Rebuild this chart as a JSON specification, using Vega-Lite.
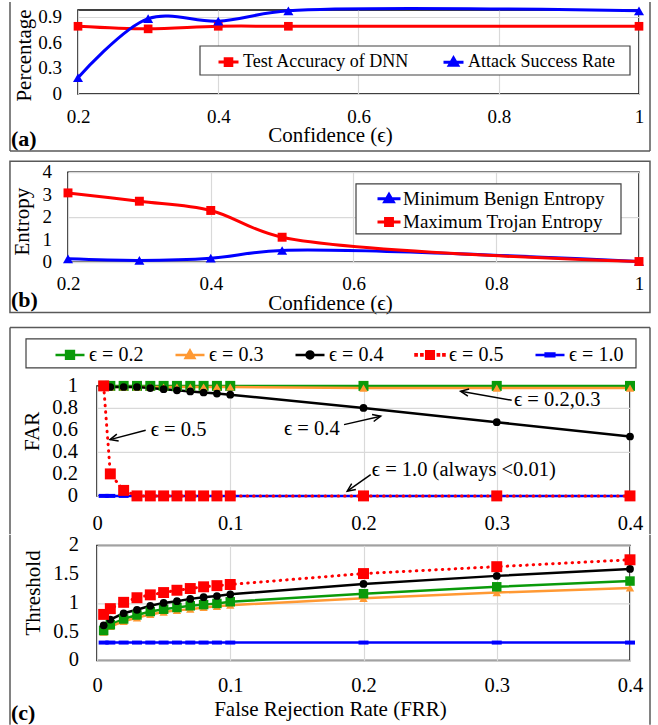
{
  "$schema": "https://vega.github.io/schema/vega-lite/v6.json",
  "padding": {"left": 7, "top": 0, "right": 5, "bottom": 0},
  "columns": 1,
  "spacing": 10.9,
  "align": "none",
  "resolve": {"scale": {"x": "independent", "y": "independent", "color": "independent", "fill": "independent", "stroke": "independent", "shape": "independent"}},
  "datasets": {
    "a": [
      {"conf": 0.2, "series": "Test Accuracy of DNN", "v": 0.79},
      {"conf": 0.3, "series": "Test Accuracy of DNN", "v": 0.76},
      {"conf": 0.4, "series": "Test Accuracy of DNN", "v": 0.79},
      {"conf": 0.5, "series": "Test Accuracy of DNN", "v": 0.79},
      {"conf": 1, "series": "Test Accuracy of DNN", "v": 0.79},
      {"conf": 0.2, "series": "Attack Success Rate", "v": 0.19},
      {"conf": 0.3, "series": "Attack Success Rate", "v": 0.88},
      {"conf": 0.4, "series": "Attack Success Rate", "v": 0.85},
      {"conf": 0.5, "series": "Attack Success Rate", "v": 0.97},
      {"conf": 1, "series": "Attack Success Rate", "v": 0.97}
    ],
    "b": [
      {"conf": 0.2, "series": "Minimum Benign Entropy", "v": 0.15},
      {"conf": 0.3, "series": "Minimum Benign Entropy", "v": 0.08},
      {"conf": 0.4, "series": "Minimum Benign Entropy", "v": 0.18},
      {"conf": 0.5, "series": "Minimum Benign Entropy", "v": 0.52},
      {"conf": 1, "series": "Minimum Benign Entropy", "v": 0.03},
      {"conf": 0.2, "series": "Maximum Trojan Entropy", "v": 3.08},
      {"conf": 0.3, "series": "Maximum Trojan Entropy", "v": 2.71},
      {"conf": 0.4, "series": "Maximum Trojan Entropy", "v": 2.3},
      {"conf": 0.5, "series": "Maximum Trojan Entropy", "v": 1.11},
      {"conf": 1, "series": "Maximum Trojan Entropy", "v": 0.03}
    ],
    "ta": [{"v": 0}, {"v": 0.3}, {"v": 0.6}, {"v": 0.9}],
    "tb": [{"v": 0}, {"v": 1}, {"v": 2}, {"v": 3}, {"v": 4}],
    "tf": [{"far": 0}, {"far": 0.2}, {"far": 0.4}, {"far": 0.6}, {"far": 0.8}, {"far": 1}],
    "tt": [{"thr": 0}, {"thr": 0.5}, {"thr": 1}, {"thr": 1.5}, {"thr": 2}],
    "c": [
      {"frr": 0.005, "eps": "ϵ = 0.2", "far": 1, "thr": 0.52},
      {"frr": 0.01, "eps": "ϵ = 0.2", "far": 1, "thr": 0.62},
      {"frr": 0.02, "eps": "ϵ = 0.2", "far": 1, "thr": 0.72},
      {"frr": 0.03, "eps": "ϵ = 0.2", "far": 1, "thr": 0.79},
      {"frr": 0.04, "eps": "ϵ = 0.2", "far": 1, "thr": 0.85},
      {"frr": 0.05, "eps": "ϵ = 0.2", "far": 1, "thr": 0.89},
      {"frr": 0.06, "eps": "ϵ = 0.2", "far": 1, "thr": 0.92},
      {"frr": 0.07, "eps": "ϵ = 0.2", "far": 1, "thr": 0.95},
      {"frr": 0.08, "eps": "ϵ = 0.2", "far": 1, "thr": 0.97},
      {"frr": 0.09, "eps": "ϵ = 0.2", "far": 1, "thr": 0.99},
      {"frr": 0.1, "eps": "ϵ = 0.2", "far": 1, "thr": 1.02},
      {"frr": 0.2, "eps": "ϵ = 0.2", "far": 1, "thr": 1.16},
      {"frr": 0.3, "eps": "ϵ = 0.2", "far": 1, "thr": 1.28},
      {"frr": 0.4, "eps": "ϵ = 0.2", "far": 1, "thr": 1.38},
      {"frr": 0.005, "eps": "ϵ = 0.3", "far": 0.99, "thr": 0.49},
      {"frr": 0.01, "eps": "ϵ = 0.3", "far": 0.99, "thr": 0.59},
      {"frr": 0.02, "eps": "ϵ = 0.3", "far": 0.99, "thr": 0.68},
      {"frr": 0.03, "eps": "ϵ = 0.3", "far": 0.99, "thr": 0.74},
      {"frr": 0.04, "eps": "ϵ = 0.3", "far": 0.99, "thr": 0.8},
      {"frr": 0.05, "eps": "ϵ = 0.3", "far": 0.99, "thr": 0.84},
      {"frr": 0.06, "eps": "ϵ = 0.3", "far": 0.99, "thr": 0.87},
      {"frr": 0.07, "eps": "ϵ = 0.3", "far": 0.99, "thr": 0.89},
      {"frr": 0.08, "eps": "ϵ = 0.3", "far": 0.99, "thr": 0.92},
      {"frr": 0.09, "eps": "ϵ = 0.3", "far": 0.99, "thr": 0.94},
      {"frr": 0.1, "eps": "ϵ = 0.3", "far": 0.99, "thr": 0.96},
      {"frr": 0.2, "eps": "ϵ = 0.3", "far": 0.98, "thr": 1.08},
      {"frr": 0.3, "eps": "ϵ = 0.3", "far": 0.98, "thr": 1.18},
      {"frr": 0.4, "eps": "ϵ = 0.3", "far": 0.98, "thr": 1.26},
      {"frr": 0.005, "eps": "ϵ = 0.4", "far": 1, "thr": 0.61},
      {"frr": 0.01, "eps": "ϵ = 0.4", "far": 0.99, "thr": 0.71},
      {"frr": 0.02, "eps": "ϵ = 0.4", "far": 0.99, "thr": 0.82},
      {"frr": 0.03, "eps": "ϵ = 0.4", "far": 0.99, "thr": 0.88},
      {"frr": 0.04, "eps": "ϵ = 0.4", "far": 0.98, "thr": 0.95},
      {"frr": 0.05, "eps": "ϵ = 0.4", "far": 0.97, "thr": 1.0},
      {"frr": 0.06, "eps": "ϵ = 0.4", "far": 0.96, "thr": 1.03},
      {"frr": 0.07, "eps": "ϵ = 0.4", "far": 0.95, "thr": 1.07},
      {"frr": 0.08, "eps": "ϵ = 0.4", "far": 0.94, "thr": 1.1},
      {"frr": 0.09, "eps": "ϵ = 0.4", "far": 0.93, "thr": 1.12},
      {"frr": 0.1, "eps": "ϵ = 0.4", "far": 0.92, "thr": 1.15},
      {"frr": 0.2, "eps": "ϵ = 0.4", "far": 0.8, "thr": 1.33},
      {"frr": 0.3, "eps": "ϵ = 0.4", "far": 0.67, "thr": 1.47},
      {"frr": 0.4, "eps": "ϵ = 0.4", "far": 0.54, "thr": 1.59},
      {"frr": 0.005, "eps": "ϵ = 1.0", "far": 0, "thr": 0.31},
      {"frr": 0.01, "eps": "ϵ = 1.0", "far": 0, "thr": 0.31},
      {"frr": 0.02, "eps": "ϵ = 1.0", "far": 0, "thr": 0.31},
      {"frr": 0.03, "eps": "ϵ = 1.0", "far": 0, "thr": 0.31},
      {"frr": 0.04, "eps": "ϵ = 1.0", "far": 0, "thr": 0.31},
      {"frr": 0.05, "eps": "ϵ = 1.0", "far": 0, "thr": 0.31},
      {"frr": 0.06, "eps": "ϵ = 1.0", "far": 0, "thr": 0.31},
      {"frr": 0.07, "eps": "ϵ = 1.0", "far": 0, "thr": 0.31},
      {"frr": 0.08, "eps": "ϵ = 1.0", "far": 0, "thr": 0.31},
      {"frr": 0.09, "eps": "ϵ = 1.0", "far": 0, "thr": 0.31},
      {"frr": 0.1, "eps": "ϵ = 1.0", "far": 0, "thr": 0.31},
      {"frr": 0.2, "eps": "ϵ = 1.0", "far": 0, "thr": 0.31},
      {"frr": 0.3, "eps": "ϵ = 1.0", "far": 0, "thr": 0.31},
      {"frr": 0.4, "eps": "ϵ = 1.0", "far": 0, "thr": 0.31},
      {"frr": 0.005, "eps": "ϵ = 0.5", "far": 1, "thr": 0.8},
      {"frr": 0.01, "eps": "ϵ = 0.5", "far": 0.2, "thr": 0.9},
      {"frr": 0.02, "eps": "ϵ = 0.5", "far": 0.05, "thr": 1.01},
      {"frr": 0.03, "eps": "ϵ = 0.5", "far": 0, "thr": 1.09},
      {"frr": 0.04, "eps": "ϵ = 0.5", "far": 0, "thr": 1.14},
      {"frr": 0.05, "eps": "ϵ = 0.5", "far": 0, "thr": 1.18},
      {"frr": 0.06, "eps": "ϵ = 0.5", "far": 0, "thr": 1.22},
      {"frr": 0.07, "eps": "ϵ = 0.5", "far": 0, "thr": 1.25},
      {"frr": 0.08, "eps": "ϵ = 0.5", "far": 0, "thr": 1.28},
      {"frr": 0.09, "eps": "ϵ = 0.5", "far": 0, "thr": 1.3},
      {"frr": 0.1, "eps": "ϵ = 0.5", "far": 0, "thr": 1.32},
      {"frr": 0.2, "eps": "ϵ = 0.5", "far": 0, "thr": 1.51},
      {"frr": 0.3, "eps": "ϵ = 0.5", "far": 0, "thr": 1.63},
      {"frr": 0.4, "eps": "ϵ = 0.5", "far": 0, "thr": 1.75}
    ]
  },
  "concat": [
    {
      "columns": 1,
      "spacing": 6.2,
      "align": "none",
      "resolve": {"scale": {"x": "independent", "y": "independent", "color": "independent", "fill": "independent", "stroke": "independent", "shape": "independent"}},
      "concat": [
        {"spacing": 0,
         "resolve": {"scale": {"x": "independent", "y": "independent", "color": "independent", "fill": "independent", "stroke": "independent", "shape": "independent"}},
         "hconcat": [
          {"width": 1, "height": 1, "data": {"values": [{}]}, "mark": {"type": "point", "opacity": 0, "size": 0}, "view": {"stroke": null}},
          {
            "width": 561,
            "height": 84,
            "layer": [
              {
                "data": {"name": "a"},
                "mark": {"type": "line", "interpolate": "catmull-rom", "strokeWidth": 3},
                "encoding": {
                  "x": {"field": "conf", "type": "quantitative", "scale": {"domain": [0.2, 1], "nice": false, "zero": false},
                        "axis": {"values": [0.2, 0.4, 0.6, 0.8, 1], "format": "~g", "title": "Confidence (ϵ)", "labelPadding": 13, "titlePadding": -2, "titleX": 252, "labelOverlap": false}},
                  "y": {"field": "v", "type": "quantitative", "scale": {"domain": [0, 0.98], "nice": false},
                        "axis": {"values": [0, 0.3, 0.6, 0.9], "labels": false, "title": "Percentage", "titlePadding": 44, "titleY": 45}},
                  "color": {"field": "series", "type": "nominal", "scale": {"domain": ["Attack Success Rate", "Test Accuracy of DNN"], "range": ["#0000ff", "#ff0000"]}, "legend": null}
                }
              },
              {
                "data": {"name": "ta"},
                "mark": {"type": "text", "align": "right", "baseline": "middle", "fontSize": 19, "font": "Liberation Serif", "color": "black"},
                "encoding": {"x": {"datum": 0.17718}, "y": {"field": "v", "type": "quantitative"}, "text": {"field": "v", "type": "quantitative", "format": "~g"}}
              },
              {
                "data": {"name": "a"},
                "transform": [{"filter": "datum.series == 'Test Accuracy of DNN'"}],
                "mark": {"type": "point", "shape": "square", "filled": true, "opacity": 1, "color": "#ff0000", "size": 75},
                "encoding": {"x": {"field": "conf", "type": "quantitative"}, "y": {"field": "v", "type": "quantitative"}}
              },
              {
                "data": {"name": "a"},
                "transform": [{"filter": "datum.series == 'Attack Success Rate'"}],
                "mark": {"type": "point", "shape": "triangle-up", "filled": true, "opacity": 1, "color": "#0000ff", "size": 100},
                "encoding": {"x": {"field": "conf", "type": "quantitative"}, "y": {"field": "v", "type": "quantitative"}}
              },
              {"data": {"values": [{}]}, "mark": {"type": "rect", "fill": "white", "stroke": "#404040", "strokeWidth": 1.2},
               "encoding": {"x": {"datum": 0.37397}, "x2": {"datum": 0.98717}, "y": {"datum": 0.56}, "y2": {"datum": 0.22167}}},
              {
                "data": {"name": "a"},
                "mark": {"type": "point", "filled": true, "opacity": 0},
                "encoding": {
                  "x": {"field": "conf", "type": "quantitative"}, "y": {"field": "v", "type": "quantitative"},
                  "fill": {"field": "series", "type": "nominal", "scale": {"domain": ["Test Accuracy of DNN", "Attack Success Rate"], "range": ["#ff0000", "#0000ff"]},
                           "legend": {"title": null, "orient": "none", "legendX": 139, "legendY": 40.5, "direction": "horizontal", "symbolSize": 400, "symbolStrokeWidth": 3, "symbolOpacity": 1, "labelFontSize": 18, "labelOffset": 3, "columnPadding": 27, "padding": 0, "labelLimit": 500}},
                  "stroke": {"field": "series", "type": "nominal", "scale": {"domain": ["Test Accuracy of DNN", "Attack Success Rate"], "range": ["#ff0000", "#0000ff"]},
                           "legend": {"title": null, "orient": "none", "legendX": 139, "legendY": 40.5, "direction": "horizontal", "symbolSize": 400, "symbolStrokeWidth": 3, "symbolOpacity": 1, "labelFontSize": 18, "labelOffset": 3, "columnPadding": 27, "padding": 0, "labelLimit": 500}},
                  "shape": {"field": "series", "type": "nominal", "scale": {"domain": ["Test Accuracy of DNN", "Attack Success Rate"], "range": ["M-1,0H1M-0.33,-0.33H0.33V0.33H-0.33Z", "M-1,0H1M0,-0.42L0.42,0.3H-0.42Z"]},
                           "legend": {"title": null, "orient": "none", "legendX": 139, "legendY": 40.5, "direction": "horizontal", "symbolSize": 400, "symbolStrokeWidth": 3, "symbolOpacity": 1, "labelFontSize": 18, "labelOffset": 3, "columnPadding": 27, "padding": 0, "labelLimit": 500}}
                }
              },
              {"data": {"values": [{}]}, "mark": {"type": "rule", "color": "#595959", "strokeWidth": 1.5},
               "encoding": {"x": {"datum": 0.10303}, "y": {"datum": 1.0733}, "y2": {"datum": -0.665}}},
              {"data": {"values": [{}]}, "mark": {"type": "rule", "color": "#595959", "strokeWidth": 1.5},
               "encoding": {"x": {"datum": 1.01569}, "y": {"datum": 1.0733}, "y2": {"datum": -0.665}}},
              {"data": {"values": [{}]}, "mark": {"type": "rule", "color": "#595959", "strokeWidth": 1.5},
               "encoding": {"x": {"datum": 0.10303}, "x2": {"datum": 1.01569}, "y": {"datum": -0.665}}},
              {"data": {"values": [{}]}, "mark": {"type": "text", "text": "(a)", "align": "left", "baseline": "middle", "fontSize": 22, "fontWeight": "bold", "font": "Liberation Serif", "color": "black"},
               "encoding": {"x": {"datum": 0.10446}, "y": {"datum": -0.5215}}}
            ]
          }
        ]},
        {"spacing": 0,
         "resolve": {"scale": {"x": "independent", "y": "independent", "color": "independent", "fill": "independent", "stroke": "independent", "shape": "independent"}},
         "hconcat": [
          {"width": 1, "height": 1, "data": {"values": [{}]}, "mark": {"type": "point", "opacity": 0, "size": 0}, "view": {"stroke": null}},
          {
            "width": 571,
            "height": 90,
            "layer": [
              {
                "data": {"name": "b"},
                "mark": {"type": "line", "interpolate": "catmull-rom", "strokeWidth": 3},
                "encoding": {
                  "x": {"field": "conf", "type": "quantitative", "scale": {"domain": [0.2, 1], "nice": false, "zero": false},
                        "axis": {"values": [0.2, 0.4, 0.6, 0.8, 1], "format": "~g", "title": "Confidence (ϵ)", "labelPadding": 12.3, "titlePadding": -1.5, "titleX": 262, "labelOverlap": false}},
                  "y": {"field": "v", "type": "quantitative", "scale": {"domain": [0, 4], "nice": false},
                        "axis": {"values": [0, 1, 2, 3, 4], "labels": false, "title": "Entropy", "titlePadding": 36, "titleY": 49}},
                  "color": {"field": "series", "type": "nominal", "scale": {"domain": ["Maximum Trojan Entropy", "Minimum Benign Entropy"], "range": ["#ff0000", "#0000ff"]}, "legend": null}
                }
              },
              {
                "data": {"name": "tb"},
                "mark": {"type": "text", "align": "right", "baseline": "middle", "fontSize": 19, "font": "Liberation Serif", "color": "black"},
                "encoding": {"x": {"datum": 0.17758}, "y": {"field": "v", "type": "quantitative"}, "text": {"field": "v", "type": "quantitative", "format": "~g"}}
              },
              {
                "data": {"name": "b"},
                "transform": [{"filter": "datum.series == 'Minimum Benign Entropy'"}],
                "mark": {"type": "point", "shape": "triangle-up", "filled": true, "opacity": 1, "color": "#0000ff", "size": 100},
                "encoding": {"x": {"field": "conf", "type": "quantitative"}, "y": {"field": "v", "type": "quantitative"}}
              },
              {
                "data": {"name": "b"},
                "transform": [{"filter": "datum.series == 'Maximum Trojan Entropy'"}],
                "mark": {"type": "point", "shape": "square", "filled": true, "opacity": 1, "color": "#ff0000", "size": 80},
                "encoding": {"x": {"field": "conf", "type": "quantitative"}, "y": {"field": "v", "type": "quantitative"}}
              },
              {"data": {"values": [{}]}, "mark": {"type": "rect", "fill": "white", "stroke": "#404040", "strokeWidth": 1.2},
               "encoding": {"x": {"datum": 0.6035}, "x2": {"datum": 0.97478}, "y": {"datum": 3.4844}, "y2": {"datum": 1.2622}}},
              {
                "data": {"name": "b"},
                "mark": {"type": "point", "filled": true, "opacity": 0},
                "encoding": {
                  "x": {"field": "conf", "type": "quantitative"}, "y": {"field": "v", "type": "quantitative"},
                  "fill": {"field": "series", "type": "nominal", "scale": {"domain": ["Minimum Benign Entropy", "Maximum Trojan Entropy"], "range": ["#0000ff", "#ff0000"]},
                           "legend": {"title": null, "orient": "none", "legendX": 308, "legendY": 13.5, "direction": "vertical", "symbolSize": 529, "symbolStrokeWidth": 3, "symbolOpacity": 1, "labelFontSize": 19, "labelOffset": 1, "rowPadding": 0.3, "padding": 0, "labelLimit": 500}},
                  "stroke": {"field": "series", "type": "nominal", "scale": {"domain": ["Minimum Benign Entropy", "Maximum Trojan Entropy"], "range": ["#0000ff", "#ff0000"]},
                           "legend": {"title": null, "orient": "none", "legendX": 308, "legendY": 13.5, "direction": "vertical", "symbolSize": 529, "symbolStrokeWidth": 3, "symbolOpacity": 1, "labelFontSize": 19, "labelOffset": 1, "rowPadding": 0.3, "padding": 0, "labelLimit": 500}},
                  "shape": {"field": "series", "type": "nominal", "scale": {"domain": ["Minimum Benign Entropy", "Maximum Trojan Entropy"], "range": ["M-1,0H1M0,-0.37L0.37,0.27H-0.37Z", "M-1,0H1M-0.3,-0.3H0.3V0.3H-0.3Z"]},
                           "legend": {"title": null, "orient": "none", "legendX": 308, "legendY": 13.5, "direction": "vertical", "symbolSize": 529, "symbolStrokeWidth": 3, "symbolOpacity": 1, "labelFontSize": 19, "labelOffset": 1, "rowPadding": 0.3, "padding": 0, "labelLimit": 500}}
                }
              },
              {"data": {"values": [{}]}, "mark": {"type": "rect", "filled": false, "stroke": "#595959", "strokeWidth": 1.5},
               "encoding": {"x": {"datum": 0.1187}, "x2": {"datum": 1.0154}, "y": {"datum": 4.489}, "y2": {"datum": -2.236}}},
              {"data": {"values": [{}]}, "mark": {"type": "text", "text": "(b)", "align": "left", "baseline": "middle", "fontSize": 22, "fontWeight": "bold", "font": "Liberation Serif", "color": "black"},
               "encoding": {"x": {"datum": 0.1201}, "y": {"datum": -1.702}}}
            ]
          }
        ]}
      ]
    },
    {"spacing": 0,
     "resolve": {"scale": {"x": "independent", "y": "independent", "color": "independent", "fill": "independent", "stroke": "independent", "shape": "independent"}},
     "hconcat": [
      {"width": 1, "height": 1, "data": {"values": [{}]}, "mark": {"type": "point", "opacity": 0, "size": 0}, "view": {"stroke": null}},
      {
        "columns": 1,
        "spacing": -2.5,
        "align": "none",
        "resolve": {"scale": {"x": "independent", "y": "independent", "color": "independent", "fill": "independent", "stroke": "independent", "shape": "independent"}},
        "concat": [
          {
            "width": 533,
            "height": 110,
            "layer": [
              {
                "data": {"name": "c"},
                "transform": [{"filter": "datum.eps != 'ϵ = 0.5'"}],
                "mark": {"type": "line", "strokeWidth": 2.5},
                "encoding": {
                  "x": {"field": "frr", "type": "quantitative", "scale": {"domain": [0, 0.4], "nice": false},
                        "axis": {"values": [0, 0.1, 0.2, 0.3, 0.4], "format": "~g", "title": null, "labelFontSize": 20.5, "labelPadding": 17.8, "labelOverlap": false}},
                  "y": {"field": "far", "type": "quantitative", "scale": {"domain": [0, 1], "nice": false},
                        "axis": {"values": [0, 0.2, 0.4, 0.6, 0.8, 1], "labels": false, "title": "FAR", "titlePadding": 54.3, "titleY": 45}},
                  "color": {"field": "eps", "type": "nominal", "scale": {"domain": ["ϵ = 1.0", "ϵ = 0.2", "ϵ = 0.3", "ϵ = 0.4", "ϵ = 0.5"], "range": ["#0000ff", "#0a9a0a", "#ff9933", "#000000", "#ff0000"]}, "legend": null}
                }
              },
              {
                "data": {"name": "tf"},
                "mark": {"type": "text", "align": "right", "baseline": "middle", "fontSize": 20.5, "font": "Liberation Serif", "color": "black"},
                "encoding": {"x": {"datum": -0.01426}, "y": {"field": "far", "type": "quantitative"}, "text": {"field": "far", "type": "quantitative", "format": "~g"}}
              },
              {
                "data": {"name": "c"},
                "transform": [{"filter": "datum.eps == 'ϵ = 0.5'"}],
                "mark": {"type": "line", "color": "#ff0000", "strokeWidth": 3, "strokeDash": [0.5, 6], "strokeCap": "round"},
                "encoding": {"x": {"field": "frr", "type": "quantitative"}, "y": {"field": "far", "type": "quantitative"}}
              },
              {"data": {"name": "c"}, "transform": [{"filter": "datum.eps == 'ϵ = 0.2'"}],
               "mark": {"type": "point", "shape": "square", "filled": true, "opacity": 1, "color": "#0a9a0a", "size": 100},
               "encoding": {"x": {"field": "frr", "type": "quantitative"}, "y": {"field": "far", "type": "quantitative"}}},
              {"data": {"name": "c"}, "transform": [{"filter": "datum.eps == 'ϵ = 0.3'"}],
               "mark": {"type": "point", "shape": "triangle-up", "filled": true, "opacity": 1, "color": "#ff9933", "size": 70},
               "encoding": {"x": {"field": "frr", "type": "quantitative"}, "y": {"field": "far", "type": "quantitative"}}},
              {"data": {"name": "c"}, "transform": [{"filter": "datum.eps == 'ϵ = 0.4'"}],
               "mark": {"type": "point", "shape": "circle", "filled": true, "opacity": 1, "color": "#000000", "size": 60},
               "encoding": {"x": {"field": "frr", "type": "quantitative"}, "y": {"field": "far", "type": "quantitative"}}},
              {"data": {"name": "c"}, "transform": [{"filter": "datum.eps == 'ϵ = 1.0'"}],
               "mark": {"type": "point", "shape": "M-1,-0.4H1V0.4H-1Z", "filled": true, "opacity": 1, "color": "#0000ff", "size": 100},
               "encoding": {"x": {"field": "frr", "type": "quantitative"}, "y": {"field": "far", "type": "quantitative"}}},
              {"data": {"name": "c"}, "transform": [{"filter": "datum.eps == 'ϵ = 0.5'"}],
               "mark": {"type": "point", "shape": "square", "filled": true, "opacity": 1, "color": "#ff0000", "size": 120},
               "encoding": {"x": {"field": "frr", "type": "quantitative"}, "y": {"field": "far", "type": "quantitative"}}},
              {"data": {"values": [{}]}, "mark": {"type": "rect", "fill": "white", "stroke": "#404040", "strokeWidth": 1.2},
               "encoding": {"x": {"datum": -0.05328}, "x2": {"datum": 0.4045}, "y": {"datum": 1.42727}, "y2": {"datum": 1.16364}}},
              {
                "data": {"name": "c"},
                "mark": {"type": "point", "filled": true, "opacity": 0},
                "encoding": {
                  "x": {"field": "frr", "type": "quantitative"}, "y": {"field": "far", "type": "quantitative"},
                  "fill": {"field": "eps", "type": "nominal", "scale": {"domain": ["ϵ = 0.2", "ϵ = 0.3", "ϵ = 0.4", "ϵ = 0.5", "ϵ = 1.0"], "range": ["#0a9a0a", "#ff9933", "#000000", "#ff0000", "#0000ff"]},
                           "legend": {"title": null, "orient": "none", "legendX": -43, "legendY": -47, "direction": "horizontal", "symbolSize": 841, "symbolStrokeWidth": 2.5, "symbolOpacity": 1, "labelFontSize": 20, "labelOffset": 3, "columnPadding": 26, "padding": 0, "labelLimit": 500}},
                  "stroke": {"field": "eps", "type": "nominal", "scale": {"domain": ["ϵ = 0.2", "ϵ = 0.3", "ϵ = 0.4", "ϵ = 0.5", "ϵ = 1.0"], "range": ["#0a9a0a", "#ff9933", "#000000", "#ff0000", "#0000ff"]},
                           "legend": {"title": null, "orient": "none", "legendX": -43, "legendY": -47, "direction": "horizontal", "symbolSize": 841, "symbolStrokeWidth": 2.5, "symbolOpacity": 1, "labelFontSize": 20, "labelOffset": 3, "columnPadding": 26, "padding": 0, "labelLimit": 500}},
                  "shape": {"field": "eps", "type": "nominal", "scale": {"domain": ["ϵ = 0.2", "ϵ = 0.3", "ϵ = 0.4", "ϵ = 0.5", "ϵ = 1.0"],
                            "range": ["M-1,0H1M-0.27,-0.27H0.27V0.27H-0.27Z", "M-1,0H1M0,-0.3L0.3,0.22H-0.3Z", "M-1,0H1M0.24,0A0.24,0.24 0 1 1 -0.24,0A0.24,0.24 0 1 1 0.24,0Z", "M-1,-0.04H-0.92V0.04H-1ZM-0.6,-0.04H-0.52V0.04H-0.6ZM-0.26,-0.26H0.26V0.26H-0.26ZM0.54,-0.04H0.62V0.04H0.54ZM0.92,-0.04H1V0.04H0.92Z", "M-1,0H1M-0.3,-0.1H0.3V0.1H-0.3Z"]},
                           "legend": {"title": null, "orient": "none", "legendX": -43, "legendY": -47, "direction": "horizontal", "symbolSize": 841, "symbolStrokeWidth": 2.5, "symbolOpacity": 1, "labelFontSize": 20, "labelOffset": 3, "columnPadding": 26, "padding": 0, "labelLimit": 500}}
                }
              },
              {"data": {"values": [{}]}, "mark": {"type": "rule", "color": "#595959", "strokeWidth": 1.5},
               "encoding": {"x": {"datum": -0.06529}, "x2": {"datum": 0.41501}, "y": {"datum": 1.53}}},
              {"data": {"values": [{}]}, "mark": {"type": "rule", "color": "#595959", "strokeWidth": 1.5},
               "encoding": {"x": {"datum": -0.06529}, "y": {"datum": 1.53}, "y2": {"datum": -0.349}}},
              {"data": {"values": [{}]}, "mark": {"type": "rule", "color": "#595959", "strokeWidth": 1.5},
               "encoding": {"x": {"datum": 0.41501}, "y": {"datum": 1.53}, "y2": {"datum": -0.349}}},
              {"data": {"values": [{}]}, "mark": {"type": "rule", "color": "black", "strokeWidth": 1.5},
               "encoding": {"x": {"datum": 0.03655}, "y": {"datum": 0.5973}, "x2": {"datum": 0.00976}, "y2": {"datum": 0.5118}}},
              {"data": {"values": [{}]}, "mark": {"type": "point", "shape": "M-0.45,1L0,0L0.45,1", "angle": 255.25, "size": 256, "filled": false, "stroke": "black", "strokeWidth": 1.5, "opacity": 1},
               "encoding": {"x": {"datum": 0.00976}, "y": {"datum": 0.5118}}},
              {"data": {"values": [{}]}, "mark": {"type": "text", "text": "ϵ = 0.5", "align": "left", "baseline": "middle", "fontSize": 20.5, "font": "Liberation Serif", "color": "black"},
               "encoding": {"x": {"datum": 0.0403}, "y": {"datum": 0.597}}},
              {"data": {"values": [{}]}, "mark": {"type": "rule", "color": "black", "strokeWidth": 1.5},
               "encoding": {"x": {"datum": 0.1854}, "y": {"datum": 0.648}, "x2": {"datum": 0.2129}, "y2": {"datum": 0.7245}}},
              {"data": {"values": [{}]}, "mark": {"type": "point", "shape": "M-0.45,1L0,0L0.45,1", "angle": 77.1, "size": 256, "filled": false, "stroke": "black", "strokeWidth": 1.5, "opacity": 1},
               "encoding": {"x": {"datum": 0.2129}, "y": {"datum": 0.7245}}},
              {"data": {"values": [{}]}, "mark": {"type": "text", "text": "ϵ = 0.4", "align": "left", "baseline": "middle", "fontSize": 20.5, "font": "Liberation Serif", "color": "black"},
               "encoding": {"x": {"datum": 0.1403}, "y": {"datum": 0.609}}},
              {"data": {"values": [{}]}, "mark": {"type": "rule", "color": "black", "strokeWidth": 1.5},
               "encoding": {"x": {"datum": 0.3112}, "y": {"datum": 0.87}, "x2": {"datum": 0.2729}, "y2": {"datum": 0.9518}}},
              {"data": {"values": [{}]}, "mark": {"type": "point", "shape": "M-0.45,1L0,0L0.45,1", "angle": 280, "size": 256, "filled": false, "stroke": "black", "strokeWidth": 1.5, "opacity": 1},
               "encoding": {"x": {"datum": 0.2729}, "y": {"datum": 0.9518}}},
              {"data": {"values": [{}]}, "mark": {"type": "text", "text": "ϵ = 0.2,0.3", "align": "left", "baseline": "middle", "fontSize": 20.5, "font": "Liberation Serif", "color": "black"},
               "encoding": {"x": {"datum": 0.3129}, "y": {"datum": 0.87}}},
              {"data": {"values": [{}]}, "mark": {"type": "rule", "color": "black", "strokeWidth": 1.5},
               "encoding": {"x": {"datum": 0.2054}, "y": {"datum": 0.1936}, "x2": {"datum": 0.1878}, "y2": {"datum": 0.0427}}},
              {"data": {"values": [{}]}, "mark": {"type": "point", "shape": "M-0.45,1L0,0L0.45,1", "angle": 234.6, "size": 256, "filled": false, "stroke": "black", "strokeWidth": 1.5, "opacity": 1},
               "encoding": {"x": {"datum": 0.1878}, "y": {"datum": 0.0427}}},
              {"data": {"values": [{}]}, "mark": {"type": "text", "text": "ϵ = 1.0 (always <0.01)", "align": "left", "baseline": "middle", "fontSize": 20.5, "font": "Liberation Serif", "color": "black"},
               "encoding": {"x": {"datum": 0.2062}, "y": {"datum": 0.239}}}
            ]
          },
          {
            "width": 533,
            "height": 115,
            "layer": [
              {
                "data": {"name": "c"},
                "transform": [{"filter": "datum.eps != 'ϵ = 0.5'"}],
                "mark": {"type": "line", "strokeWidth": 2.5},
                "encoding": {
                  "x": {"field": "frr", "type": "quantitative", "scale": {"domain": [0, 0.4], "nice": false},
                        "axis": {"values": [0, 0.1, 0.2, 0.3, 0.4], "format": "~g", "title": "False Rejection Rate (FRR)", "labelFontSize": 20.5, "labelPadding": 15.4, "titlePadding": 2, "titleX": 233, "labelOverlap": false}},
                  "y": {"field": "thr", "type": "quantitative", "scale": {"domain": [0, 2], "nice": false},
                        "axis": {"values": [0, 0.5, 1, 1.5, 2], "labels": false, "title": "Threshold", "titlePadding": 53.7, "titleY": 47}},
                  "color": {"field": "eps", "type": "nominal", "scale": {"domain": ["ϵ = 1.0", "ϵ = 0.2", "ϵ = 0.3", "ϵ = 0.4", "ϵ = 0.5"], "range": ["#0000ff", "#0a9a0a", "#ff9933", "#000000", "#ff0000"]}, "legend": null}
                }
              },
              {
                "data": {"name": "tt"},
                "mark": {"type": "text", "align": "right", "baseline": "middle", "fontSize": 20.5, "font": "Liberation Serif", "color": "black"},
                "encoding": {"x": {"datum": -0.01351}, "y": {"field": "thr", "type": "quantitative"}, "text": {"field": "thr", "type": "quantitative", "format": "~g"}}
              },
              {
                "data": {"name": "c"},
                "transform": [{"filter": "datum.eps == 'ϵ = 0.5'"}],
                "mark": {"type": "line", "color": "#ff0000", "strokeWidth": 3, "strokeDash": [0.5, 6], "strokeCap": "round"},
                "encoding": {"x": {"field": "frr", "type": "quantitative"}, "y": {"field": "thr", "type": "quantitative"}}
              },
              {"data": {"name": "c"}, "transform": [{"filter": "datum.eps == 'ϵ = 0.3'"}],
               "mark": {"type": "point", "shape": "triangle-up", "filled": true, "opacity": 1, "color": "#ff9933", "size": 70},
               "encoding": {"x": {"field": "frr", "type": "quantitative"}, "y": {"field": "thr", "type": "quantitative"}}},
              {"data": {"name": "c"}, "transform": [{"filter": "datum.eps == 'ϵ = 0.2'"}],
               "mark": {"type": "point", "shape": "square", "filled": true, "opacity": 1, "color": "#0a9a0a", "size": 90},
               "encoding": {"x": {"field": "frr", "type": "quantitative"}, "y": {"field": "thr", "type": "quantitative"}}},
              {"data": {"name": "c"}, "transform": [{"filter": "datum.eps == 'ϵ = 0.4'"}],
               "mark": {"type": "point", "shape": "circle", "filled": true, "opacity": 1, "color": "#000000", "size": 60},
               "encoding": {"x": {"field": "frr", "type": "quantitative"}, "y": {"field": "thr", "type": "quantitative"}}},
              {"data": {"name": "c"}, "transform": [{"filter": "datum.eps == 'ϵ = 1.0'"}],
               "mark": {"type": "point", "shape": "M-1,-0.4H1V0.4H-1Z", "filled": true, "opacity": 1, "color": "#0000ff", "size": 100},
               "encoding": {"x": {"field": "frr", "type": "quantitative"}, "y": {"field": "thr", "type": "quantitative"}}},
              {"data": {"name": "c"}, "transform": [{"filter": "datum.eps == 'ϵ = 0.5'"}],
               "mark": {"type": "point", "shape": "square", "filled": true, "opacity": 1, "color": "#ff0000", "size": 120},
               "encoding": {"x": {"field": "frr", "type": "quantitative"}, "y": {"field": "thr", "type": "quantitative"}}},
              {"data": {"values": [{}]}, "mark": {"type": "rule", "color": "#595959", "strokeWidth": 1.5},
               "encoding": {"x": {"datum": -0.06529}, "y": {"datum": 2.179}, "y2": {"datum": -1.12}}},
              {"data": {"values": [{}]}, "mark": {"type": "rule", "color": "#595959", "strokeWidth": 1.5},
               "encoding": {"x": {"datum": 0.41501}, "y": {"datum": 2.179}, "y2": {"datum": -1.12}}},
              {"data": {"values": [{}]}, "mark": {"type": "text", "text": "(c)", "align": "left", "baseline": "middle", "fontSize": 22, "fontWeight": "bold", "font": "Liberation Serif", "color": "black"},
               "encoding": {"x": {"datum": -0.06454}, "y": {"datum": -0.9096}}}
            ]
          }
        ]
      }
    ]}
  ],
  "config": {
    "font": "Liberation Serif",
    "view": {"stroke": "black", "strokeWidth": 1.5},
    "axis": {"ticks": false, "domain": false, "labelFont": "Liberation Serif", "titleFont": "Liberation Serif", "labelColor": "black", "titleColor": "black", "titleFontWeight": "normal", "gridColor": "#d9d9d9", "gridWidth": 1.2, "labelFontSize": 19, "titleFontSize": 21, "labelFlush": false, "labelOverlap": false},
    "legend": {"labelFont": "Liberation Serif", "labelColor": "black", "labelLimit": 500}
  }
}
